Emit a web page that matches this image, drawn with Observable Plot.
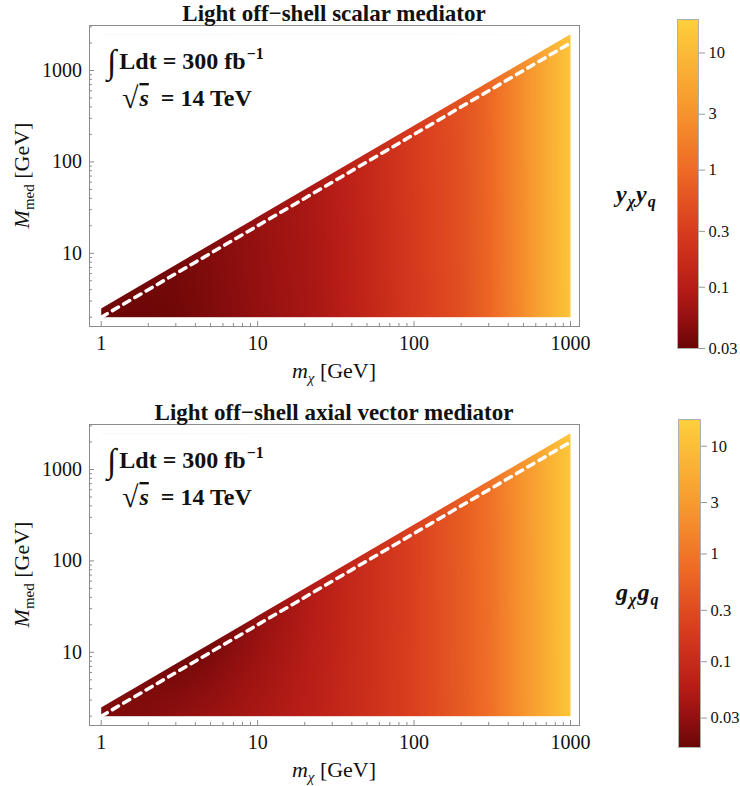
<!DOCTYPE html>
<html><head><meta charset="utf-8">
<script src="https://cdn.jsdelivr.net/npm/d3@7"></script>
<script src="https://cdn.jsdelivr.net/npm/@observablehq/plot@0.6"></script>
<style>
body{margin:0;background:#fff;}
#root{position:relative;width:740px;height:786px;background:#fff;overflow:hidden;}
#root > svg, #root > figure{position:absolute;margin:0;}
</style></head>
<body><div id="root"></div>
<script>
// ---------------- data ----------------
const mGrid = [1, 2, 3, 5, 10, 20, 30, 50, 100, 200, 300, 500, 700, 1000];   // m_chi [GeV]
const Mfloor = 2;            // lower edge of coloured region, M_med [GeV]
const edgeRatio = 2.45;      // upper edge of coloured region: M_med = 2.45 m_chi
const dashLineM = [1, 1000]; // dashed line M_med = 2 m_chi
const dashLineMed = [2, 2000];

// scalar mediator y_chi*y_q  (values along the lower edge and along the upper edge)
const scalarBottom = [0.031, 0.031, 0.033, 0.040, 0.054, 0.072, 0.090, 0.135, 0.27, 0.50, 0.87, 2.6, 6.0, 14];
const scalarEdge   = [0.034, 0.034, 0.036, 0.043, 0.058, 0.077, 0.097, 0.145, 0.29, 0.53, 0.92, 2.7, 6.2, 14.5];
// axial vector mediator g_chi*g_q
const axialBottom  = [0.021, 0.024, 0.028, 0.034, 0.045, 0.061, 0.080, 0.12, 0.22, 0.46, 0.80, 2.5, 5.5, 13.5];
const axialEdge    = [0.023, 0.021, 0.019, 0.020, 0.030, 0.050, 0.070, 0.11, 0.22, 0.48, 0.85, 2.6, 5.8, 14];

const scalarRange = [0.03, 19.3];
const axialRange  = [0.016, 17.7];
const cbTicks = [0.03, 0.1, 0.3, 1, 3, 10];

const xDomain = [0.8417, 1141.7];
const yDomain = [1.582, 3108];
const xMajor = [1, 10, 100, 1000];
const xMinor = [2,3,4,5,6,7,8,9,20,30,40,50,60,70,80,90,200,300,400,500,600,700,800,900];
const yMajor = [10, 100, 1000];
const yMinor = [2,3,4,5,6,7,8,9,20,30,40,50,60,70,80,90,200,300,400,500,600,700,800,900,2000,3000];

// colour map (sampled from the colour bars)
const cStops = [0, 0.09, 0.186, 0.356, 0.542, 0.712, 0.898, 1];
const cColors = ["#6a0606", "#931010", "#b81d17", "#d83c1e", "#ee6a25", "#f6932e", "#fbba36", "#fdd03c"];
const cmap = d3.scaleLinear().domain(cStops).range(cColors).interpolate(d3.interpolateRgb).clamp(true);
const interp = t => cmap(t);

const FONT = "'Liberation Serif','Times New Roman',serif";
const GRAY = "#8c8c8c";

function panel(bottom, edge, cDomain) {
  const mMin = mGrid[0], mMax = mGrid[mGrid.length - 1];
  // smooth field through the read values (log–log, piecewise along m, blended from lower to upper edge)
  const lb = d3.scaleLog().domain(mGrid).range(bottom.map(Math.log10)).clamp(true);
  const le = d3.scaleLog().domain(mGrid).range(edge.map(Math.log10)).clamp(true);
  const field = (m, M) => {
    const top = edgeRatio * m;
    const s = Math.max(0, Math.min(1, Math.log(M / Mfloor) / Math.log(top / Mfloor)));
    return Math.pow(10, lb(m) + s * (le(m) - lb(m)));
  };
  const mask = [{m: mMin, lo: edgeRatio * mMin, hi: edgeRatio * mMax}, {m: mMax, lo: edgeRatio * mMax, hi: edgeRatio * mMax}];
  const dash = dashLineM.map((m, i) => ({m, M: dashLineMed[i]}));
  const W = 600, H = 390, mL = 89, mR = 21, mT = 25, mB = 64;
  const fW = W - mL - mR, fH = H - mT - mB;
  return Plot.plot({
    width: W, height: H, marginLeft: mL, marginRight: mR, marginTop: mT, marginBottom: mB,
    x: {type: "log", domain: xDomain, axis: null},
    y: {type: "log", domain: yDomain, axis: null},
    color: {type: "log", domain: cDomain, interpolate: interp},
    style: {fontFamily: FONT, background: "transparent", overflow: "visible"},
    marks: [
      Plot.raster({fill: field, x1: mMin, x2: mMax, y1: Mfloor, y2: edgeRatio * mMax}),
      Plot.areaY(mask, {x: "m", y1: "lo", y2: "hi", fill: "white"}),
      Plot.line(dash, {x: "m", y: "M", stroke: "white", strokeWidth: 3.5, strokeDasharray: "7,6"}),
      Plot.frame({stroke: GRAY}),
      Plot.tickX(xMinor, {x: d => d, insetTop: fH - 3, stroke: GRAY}),
      Plot.tickX(xMajor, {x: d => d, insetTop: fH - 5, stroke: GRAY}),
      Plot.tickY(yMinor, {y: d => d, insetRight: fW - 3, stroke: GRAY}),
      Plot.tickY(yMajor, {y: d => d, insetRight: fW - 5, stroke: GRAY}),
      Plot.axisX({ticks: xMajor, tickSize: 0, tickPadding: 9.5, fontSize: 20, tickFormat: d => String(d), fill: "#111", label: null}),
      Plot.axisY({ticks: yMajor, tickSize: 0, tickPadding: 7.5, fontSize: 20, tickFormat: d => String(d), fill: "#111", label: null})
    ]
  });
}

function colorbar(cDomain, mT, mB, mL, mR) {
  return Plot.plot({
    width: 80, height: 390, marginLeft: mL, marginRight: mR, marginTop: mT, marginBottom: mB,
    x: {domain: [0, 1], axis: null},
    y: {type: "log", domain: cDomain, axis: null},
    color: {type: "log", domain: cDomain, interpolate: interp},
    style: {fontFamily: FONT, background: "transparent", overflow: "visible"},
    marks: [
      Plot.raster({fill: (x, y) => y, x1: 0, x2: 1, y1: cDomain[0], y2: cDomain[1]}),
      Plot.frame({stroke: "#b0b0b0"}),
      Plot.axisY({anchor: "right", ticks: cbTicks, tickSize: 6, tickPadding: 4, fontSize: 16.5,
        tickFormat: d => String(d), stroke: "#999", fill: "#111", label: null})
    ]
  });
}

const root = document.getElementById("root");
function place(el, left, top) { el.style.left = left + "px"; el.style.top = top + "px"; root.appendChild(el); }

place(panel(scalarBottom, scalarEdge, scalarRange), 0, 0);
place(panel(axialBottom, axialEdge, axialRange), 0, 399);
place(colorbar(scalarRange, 19, 42, 17, 42), 660, 0);
place(colorbar(axialRange, 20, 42, 18, 40), 660, 399);

// ---------------- text overlay ----------------
const ov = d3.select(root).append("svg").attr("width", 740).attr("height", 786)
  .style("left", "0px").style("top", "0px").style("pointer-events", "none")
  .attr("font-family", FONT).attr("fill", "#111");

const titles = ["Light off\u2212shell scalar mediator", "Light off\u2212shell axial vector mediator"];
const cbLabels = [["y", "q"], ["g", "q"]];
[0, 399].forEach((off, k) => {
  ov.append("text").attr("x", 334).attr("y", 21 + off).attr("text-anchor", "middle")
    .attr("font-weight", "bold").attr("font-size", 23).text(titles[k]);

  const t1 = ov.append("text").attr("x", 107).attr("y", 69 + off).attr("font-weight", "bold").attr("font-size", 24);
  t1.append("tspan").attr("font-size", 34).attr("font-weight", "normal").attr("dy", 4).text("\u222B");
  t1.append("tspan").attr("dy", -4).attr("dx", 3).text("Ldt = 300 fb");
  t1.append("tspan").attr("font-size", 16).attr("dy", -10).attr("dx", 1).text("\u22121");

  const t2 = ov.append("text").attr("x", 122).attr("y", 106 + off).attr("font-weight", "bold").attr("font-size", 24);
  t2.append("tspan").attr("font-size", 30).attr("dy", 2).text("\u221A");
  t2.append("tspan").attr("font-style", "italic").attr("dy", -2).attr("dx", 1).style("text-decoration", "overline").text("s");
  t2.append("tspan").attr("dx", 6).text(" = 14 TeV");

  const xl = ov.append("text").attr("x", 334).attr("y", 378 + off).attr("text-anchor", "middle").attr("font-size", 22);
  xl.append("tspan").attr("font-style", "italic").text("m");
  xl.append("tspan").attr("font-style", "italic").attr("font-size", 15).attr("dy", 5).text("\u03C7");
  xl.append("tspan").attr("dy", -5).text(" [GeV]");

  const yl = ov.append("text").attr("transform", `translate(29,${175.5 + off}) rotate(-90)`)
    .attr("text-anchor", "middle").attr("font-size", 22);
  yl.append("tspan").attr("font-style", "italic").text("M");
  yl.append("tspan").attr("font-size", 15).attr("dy", 5).text("med");
  yl.append("tspan").attr("dy", -5).text(" [GeV]");

  const cl = ov.append("text").attr("x", 616).attr("y", k ? 600 : 202)
    .attr("font-size", 24).attr("font-weight", "bold").attr("font-style", "italic");
  cl.append("tspan").text(cbLabels[k][0]);
  cl.append("tspan").attr("font-size", 16).attr("dy", 5).attr("dx", 1).text("\u03C7");
  cl.append("tspan").attr("dy", -5).attr("dx", 1).text(cbLabels[k][0]);
  cl.append("tspan").attr("font-size", 16).attr("dy", 5).attr("dx", 1).text(cbLabels[k][1]);
});
</script>
</body></html>
